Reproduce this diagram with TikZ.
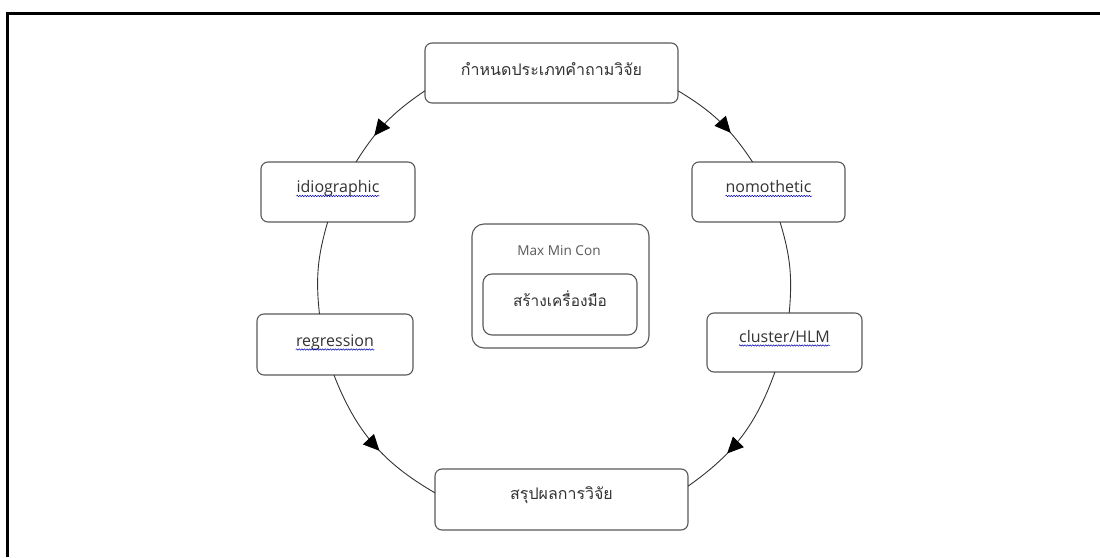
\documentclass[tikz,border=0pt]{standalone}
\usepackage{fontspec}
\newfontfamily\thaifont[Script=Thai]{Loma}
\newfontfamily\latfont{Open Sans}
\usetikzlibrary{arrows.meta,decorations.markings,decorations.pathmorphing}
\begin{document}
\begin{tikzpicture}[x=1pt,y=1pt,
  box/.style={draw=black!65, line width=1.1pt, rounded corners=7pt, fill=white, inner sep=0pt, outer sep=0pt},
  thai/.style={font=\thaifont\fontsize{16}{19}\selectfont, text=black!80, inner sep=0pt, anchor=base},
  eng/.style={font=\latfont\fontsize{16}{19}\selectfont, text=black!80, inner sep=0pt, anchor=base},
  small/.style={font=\latfont\fontsize{13.6}{16}\selectfont, text=black!65, inner sep=0pt, anchor=base},
  link/.style={draw=black!80, line width=0.9pt},
  midarrow/.style={postaction={decorate}, decoration={markings, mark=at position #1 with {\arrow[black]{Triangle[length=16pt,width=15pt]}}}},
  squig/.style={draw=blue!70!black, line width=0.5pt, decorate, decoration={snake, amplitude=0.7pt, segment length=2.6pt}}
]
\useasboundingbox (0,0) rectangle (1100,557);
% frame
\draw[line width=3pt] (7,0) -- (7,543.5) -- (1100,543.5);

% boxes
\node[box, minimum width=253pt, minimum height=60pt] (top) at (551.5,484) {};
\node[box, minimum width=154pt, minimum height=60pt] (idio) at (338,365) {};
\node[box, minimum width=153pt, minimum height=60pt] (nomo) at (768.5,365) {};
\node[box, minimum width=156pt, minimum height=61pt] (regr) at (335,212.5) {};
\node[box, minimum width=155pt, minimum height=59pt] (clus) at (784.5,214.5) {};
\node[box, minimum width=253pt, minimum height=61pt] (bot) at (561.5,57.5) {};
\node[box, minimum width=177pt, minimum height=124pt, rounded corners=12pt] (outer) at (560.5,271) {};
\node[box, minimum width=154pt, minimum height=61pt, rounded corners=9pt] (inner) at (560,252.5) {};

% texts
\node[thai] (topt) at ([yshift=-3pt]top.center) {กำหนดประเภทคำถามวิจัย};
\node[thai] (bott) at ([yshift=0pt]bot.center) {สรุปผลการวิจัย};
\node[thai, font=\thaifont\fontsize{15.4}{18}\selectfont] (innert) at ([yshift=-2pt]inner.center) {สร้างเครื่องมือ};
\node[small] (mmc) at (559,301.3) {Max Min Con};
\node[eng] (idiot) at ([yshift=-1pt]idio.center) {idiographic};
\node[eng] (nomot) at ([yshift=-1pt]nomo.center) {nomothetic};
\node[eng] (regrt) at ([yshift=-2pt]regr.center) {regression};
\node[eng] (clust) at ([yshift=0pt]clus.center) {cluster/HLM};

% spell-check squiggles
\foreach \t in {idiot,nomot,regrt,clust}
  \draw[squig] ([yshift=-3pt]\t.base west) -- ([yshift=-3pt]\t.base east);

% connectors
\draw[link, midarrow=0.68] (top.188.5) to[bend right=12] (idio.59.5);
\draw[link] (idio.251.6) to[bend right=11.25] (regr.117.7);
\draw[link, midarrow=0.56] (regr.268) to[bend right=19.3] (bot.177.5);
\draw[link, midarrow=0.65] (top.352.8) to[bend left=12.75] (nomo.118.8);
\draw[link] (nomo.291) to[bend left=11.15] (clus.81.3);
\draw[link, midarrow=0.65] (clus.252.2) to[bend left=17.55] (bot.6.9);
\end{tikzpicture}
\end{document}
